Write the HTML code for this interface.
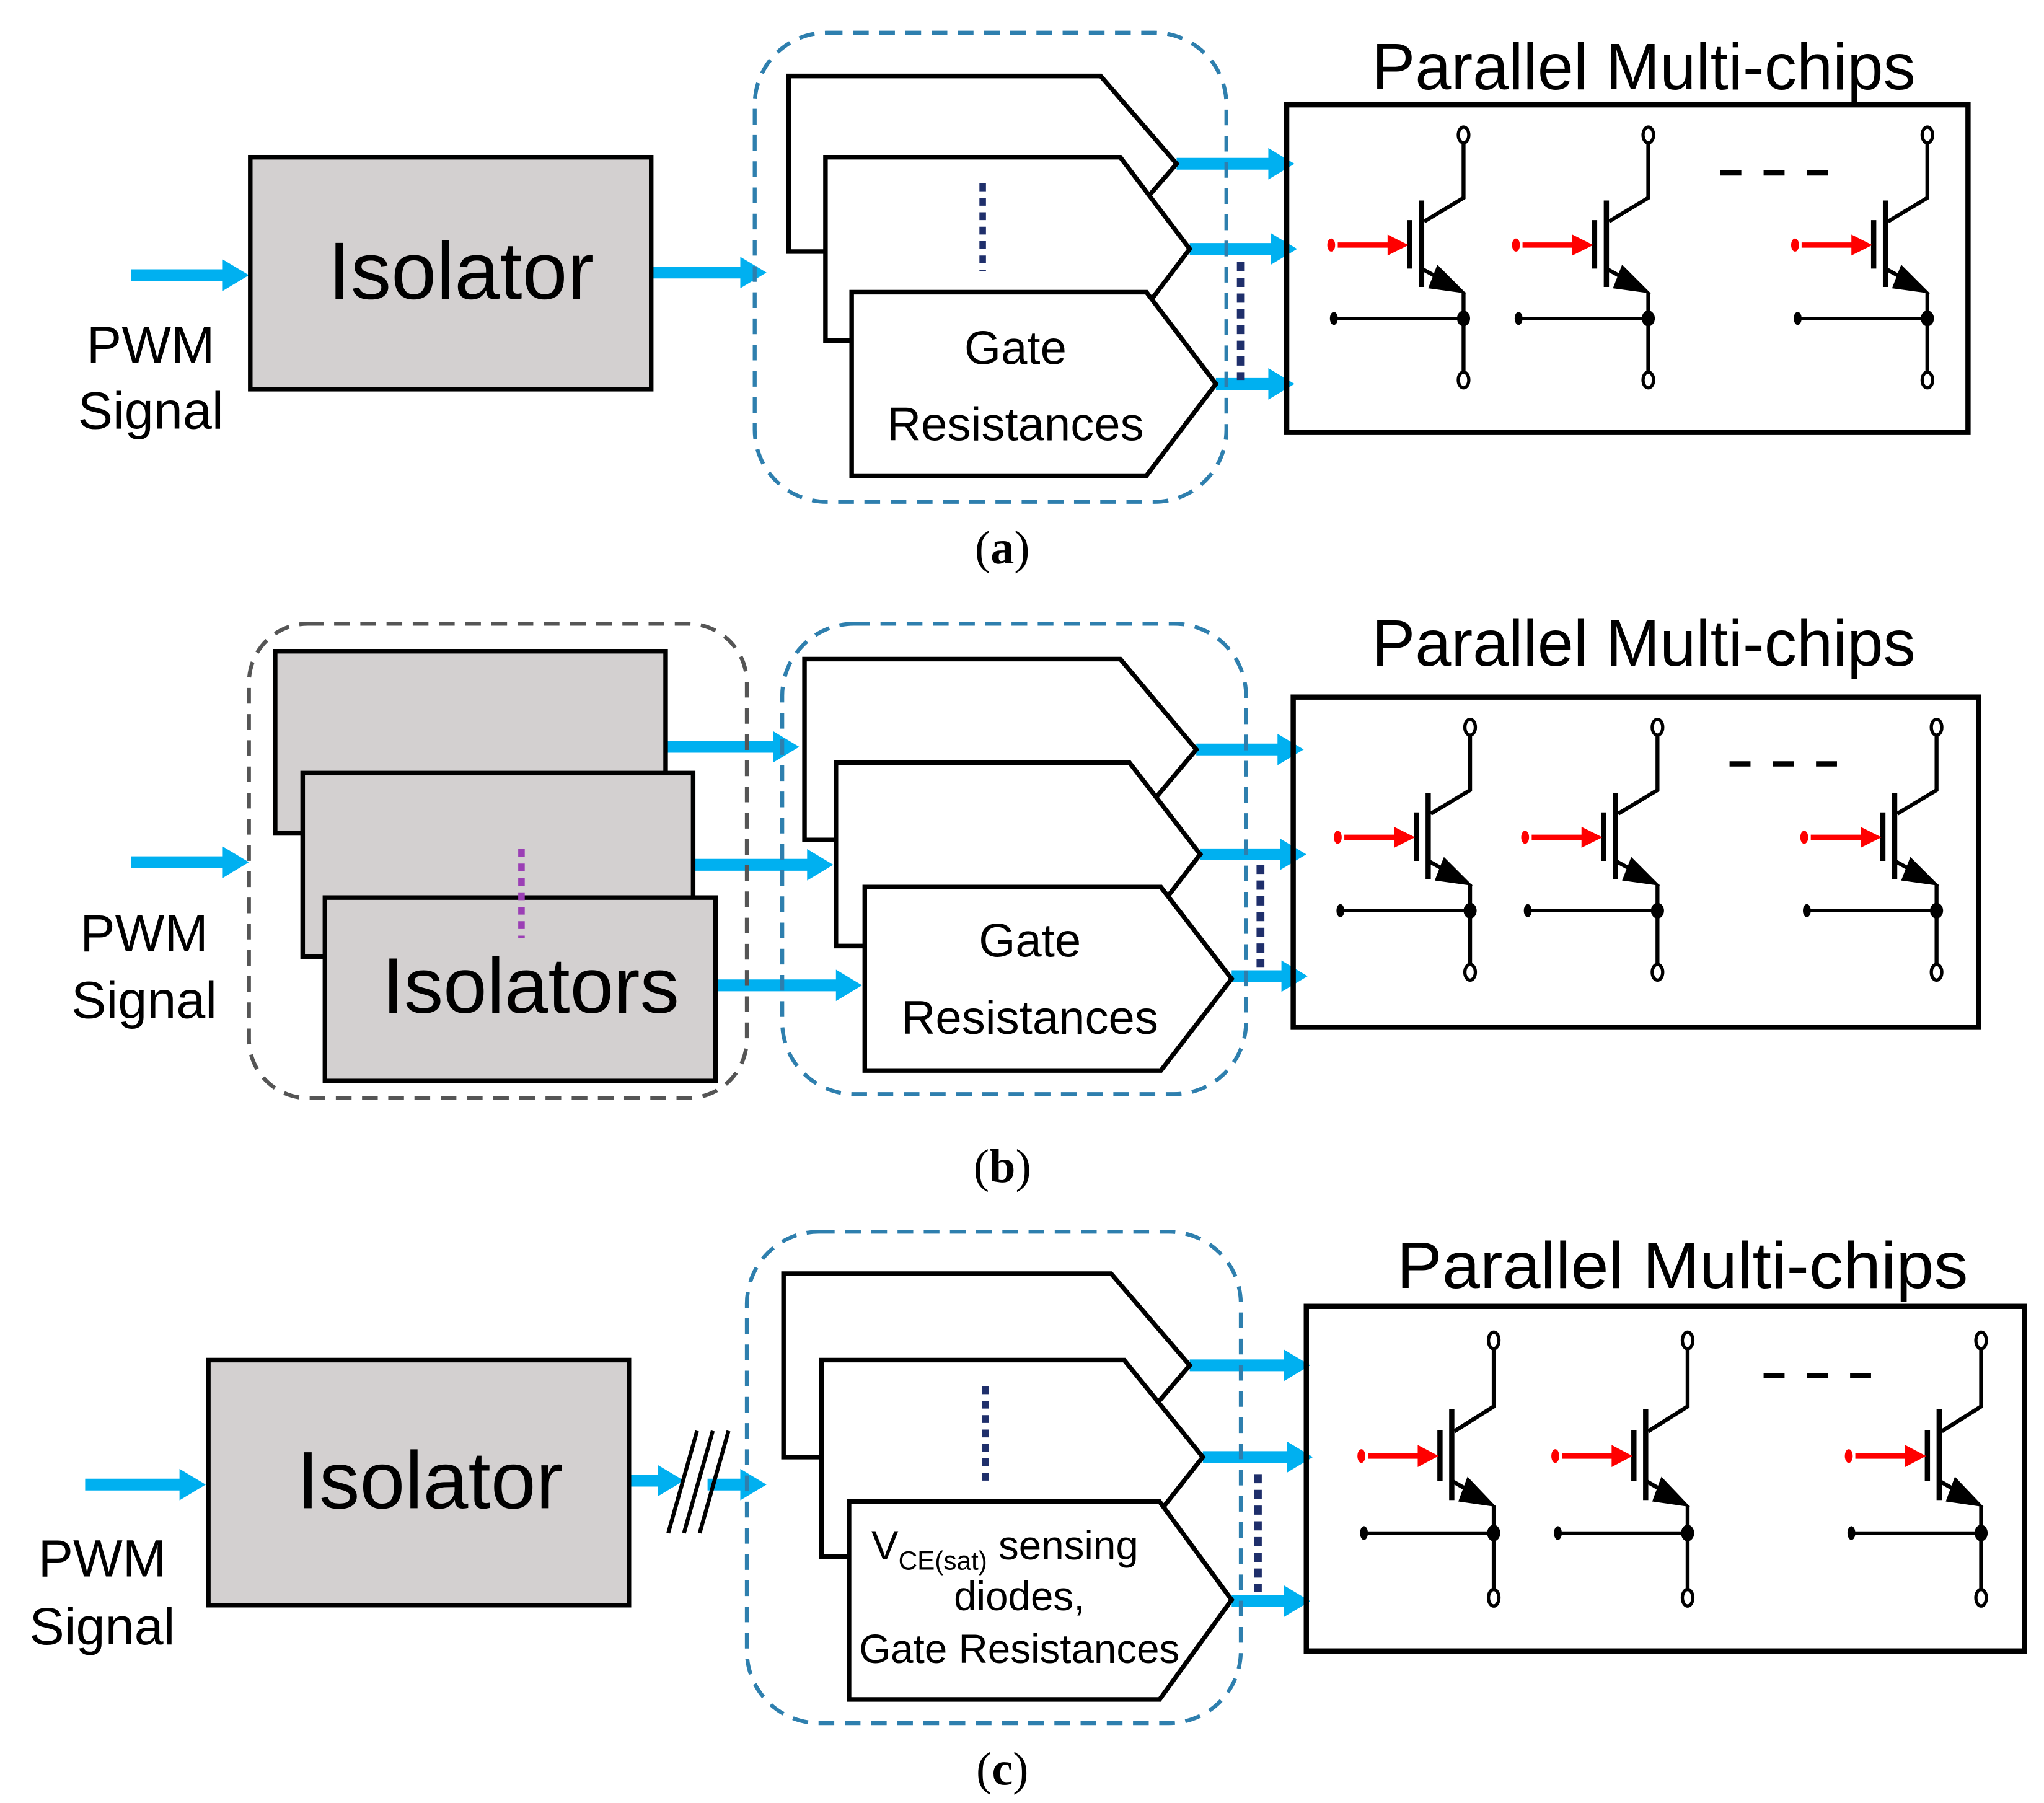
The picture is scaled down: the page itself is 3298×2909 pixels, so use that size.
<!DOCTYPE html>
<html><head><meta charset="utf-8"><style>
html,body{margin:0;padding:0;background:#fff}
svg{display:block}
.t{font-family:"Liberation Sans",sans-serif;fill:#000}
.s{font-family:"Liberation Serif",serif;fill:#000}
</style></head><body>
<svg width="3298" height="2909" viewBox="0 0 1560 1376" xmlns="http://www.w3.org/2000/svg">
<defs>
<g id="ig">
<ellipse cx="0" cy="0" rx="4" ry="6" fill="#fff" stroke="#000" stroke-width="2.5"/>
<path d="M0 6 V48 L-30 66" fill="none" stroke="#000" stroke-width="3"/>
<line x1="-32" y1="50" x2="-32" y2="116" stroke="#000" stroke-width="4"/>
<line x1="-41" y1="65" x2="-41" y2="102" stroke="#000" stroke-width="4"/>
<line x1="-96" y1="84" x2="-56" y2="84" stroke="#f00" stroke-width="4"/>
<polygon points="-58,76 -42,84 -58,92" fill="#f00"/>
<ellipse cx="-101" cy="84" rx="3" ry="5" fill="#f00"/>
<line x1="-32" y1="102" x2="-12" y2="113" stroke="#000" stroke-width="3"/>
<polygon points="-20,99 2,121 -27,117" fill="#000"/>
<path d="M0 120 V181" fill="none" stroke="#000" stroke-width="3"/>
<ellipse cx="0" cy="187" rx="4" ry="6" fill="#fff" stroke="#000" stroke-width="2.5"/>
<line x1="-99" y1="140" x2="0" y2="140" stroke="#000" stroke-width="2.5"/>
<ellipse cx="0" cy="140" rx="5" ry="6" fill="#000"/>
<ellipse cx="-99" cy="140" rx="3" ry="5" fill="#000"/>
</g>
</defs>
<g fill="none" stroke="#00B0F0" stroke-width="9">
<path d="M100 210H172 M497 208H567 M898 125H970 M908 190H972 M928 293H970
M100 658H172 M508 570H592 M529 660H618 M546 752H640 M913 572H977 M916 652H979 M940 745H980
M65 1133H139 M480 1130H504 M540 1133H567 M908 1042H982 M918 1112H984 M940 1222H982"/>
</g>
<g fill="#00B0F0">
<polygon points="170,198 190,210 170,222"/><polygon points="565,196 585,208 565,220"/>
<polygon points="968,113 988,125 968,137"/><polygon points="970,178 990,190 970,202"/><polygon points="968,281 988,293 968,305"/>
<polygon points="170,646 190,658 170,670"/><polygon points="590,558 610,570 590,582"/><polygon points="616,648 636,660 616,672"/><polygon points="638,740 658,752 638,764"/>
<polygon points="975,560 995,572 975,584"/><polygon points="977,640 997,652 977,664"/><polygon points="978,733 998,745 978,757"/>
<polygon points="137,1121 157,1133 137,1145"/><polygon points="502,1118 522,1130 502,1142"/><polygon points="565,1121 585,1133 565,1145"/>
<polygon points="980,1030 1000,1042 980,1054"/><polygon points="982,1100 1002,1112 982,1124"/><polygon points="980,1210 1000,1222 980,1234"/>
</g>

<!-- ===== (a) ===== -->
<text class="t" x="115" y="277" font-size="40" text-anchor="middle">PWM</text>
<text class="t" x="115" y="327" font-size="40" text-anchor="middle">Signal</text>
<rect x="191" y="120" width="306" height="177" fill="#D3D0D0" stroke="#000" stroke-width="3.5"/>
<text class="t" x="352" y="228" font-size="62" text-anchor="middle">Isolator</text>
<rect x="576" y="25" width="360" height="358" rx="55" fill="none" stroke="#2E7FAE" stroke-width="3" stroke-dasharray="12,8"/>
<g fill="#fff" stroke="#000" stroke-width="3.5" stroke-linejoin="miter">
<polygon points="602,58 840,58 898,125 840,192 602,192"/>
<polygon points="630,120 855,120 908,190 855,260 630,260"/>
<polygon points="650,223 875,223 928,293 875,363 650,363"/>
</g>
<line x1="750" y1="140" x2="750" y2="207" stroke="#1F2F6B" stroke-width="5" stroke-dasharray="6,5"/>
<line x1="947" y1="200" x2="947" y2="290" stroke="#1F2F6B" stroke-width="6" stroke-dasharray="7,5"/>
<text class="t" x="775" y="278" font-size="36" text-anchor="middle">Gate</text>
<text class="t" x="775" y="336" font-size="36" text-anchor="middle">Resistances</text>
<rect x="982" y="80" width="520" height="250" fill="none" stroke="#000" stroke-width="4"/>
<text class="t" x="1047" y="68" font-size="50" textLength="415" lengthAdjust="spacingAndGlyphs">Parallel  Multi-chips</text>
<line x1="1313" y1="132" x2="1395" y2="132" stroke="#000" stroke-width="4" stroke-dasharray="16,17"/>
<use href="#ig" x="1117" y="103"/><use href="#ig" x="1258" y="103"/><use href="#ig" x="1471" y="103"/>
<text class="s" x="765" y="430" font-size="36" text-anchor="middle">(<tspan font-weight="bold">a</tspan>)</text>

<!-- ===== (b) ===== -->
<text class="t" x="110" y="726" font-size="40" text-anchor="middle">PWM</text>
<text class="t" x="110" y="777" font-size="40" text-anchor="middle">Signal</text>
<rect x="190" y="476" width="380" height="362" rx="45" fill="none" stroke="#555" stroke-width="3" stroke-dasharray="12,8"/>
<g fill="#D3D0D0" stroke="#000" stroke-width="3.5">
<rect x="210" y="497" width="298" height="139"/>
<rect x="231" y="590" width="298" height="140"/>
<rect x="248" y="685" width="298" height="140"/>
</g>
<line x1="398" y1="648" x2="398" y2="716" stroke="#9B3FB5" stroke-width="5" stroke-dasharray="6,5"/>
<text class="t" x="405" y="773" font-size="60" text-anchor="middle">Isolators</text>
<rect x="597" y="476" width="354" height="359" rx="55" fill="none" stroke="#2E7FAE" stroke-width="3" stroke-dasharray="12,8"/>
<g fill="#fff" stroke="#000" stroke-width="3.5">
<polygon points="614,503 855,503 913,572 855,641 614,641"/>
<polygon points="638,582 862,582 916,652 862,722 638,722"/>
<polygon points="660,677 886,677 940,747 886,817 660,817"/>
</g>
<line x1="962" y1="660" x2="962" y2="738" stroke="#1F2F6B" stroke-width="6" stroke-dasharray="7,5"/>
<text class="t" x="786" y="730" font-size="36" text-anchor="middle">Gate</text>
<text class="t" x="786" y="789" font-size="36" text-anchor="middle">Resistances</text>
<rect x="987" y="532" width="523" height="252" fill="none" stroke="#000" stroke-width="4"/>
<text class="t" x="1047" y="508" font-size="50" textLength="415" lengthAdjust="spacingAndGlyphs">Parallel  Multi-chips</text>
<line x1="1320" y1="583" x2="1403" y2="583" stroke="#000" stroke-width="4" stroke-dasharray="16,17"/>
<use href="#ig" x="1122" y="555"/><use href="#ig" x="1265" y="555"/><use href="#ig" x="1478" y="555"/>
<text class="s" x="765" y="902" font-size="36" text-anchor="middle">(<tspan font-weight="bold">b</tspan>)</text>

<!-- ===== (c) ===== -->
<text class="t" x="78" y="1203" font-size="40" text-anchor="middle">PWM</text>
<text class="t" x="78" y="1255" font-size="40" text-anchor="middle">Signal</text>
<rect x="159" y="1038" width="321" height="187" fill="#D3D0D0" stroke="#000" stroke-width="3.5"/>
<text class="t" x="328" y="1151" font-size="62" text-anchor="middle">Isolator</text>
<g stroke="#000" stroke-width="3">
<line x1="510" y1="1170" x2="532" y2="1092"/><line x1="522" y1="1170" x2="544" y2="1092"/><line x1="534" y1="1170" x2="556" y2="1092"/>
</g>
<rect x="570" y="940" width="377" height="375" rx="55" fill="none" stroke="#2E7FAE" stroke-width="3" stroke-dasharray="12,8"/>
<g fill="#fff" stroke="#000" stroke-width="3.5">
<polygon points="598,972 848,972 908,1042 848,1112 598,1112"/>
<polygon points="627,1038 858,1038 918,1112 858,1188 627,1188"/>
<polygon points="648,1146 885,1146 940,1221 885,1297 648,1297"/>
</g>
<line x1="752" y1="1058" x2="752" y2="1130" stroke="#1F2F6B" stroke-width="5" stroke-dasharray="6,5"/>
<line x1="960" y1="1125" x2="960" y2="1215" stroke="#1F2F6B" stroke-width="6" stroke-dasharray="7,5"/>
<text class="t" x="665" y="1190" font-size="31">V<tspan font-size="20" dy="8">CE(sat)</tspan><tspan dy="-8">  sensing</tspan></text>
<text class="t" x="778" y="1229" font-size="31" text-anchor="middle">diodes,</text>
<text class="t" x="778" y="1269" font-size="31" text-anchor="middle">Gate Resistances</text>
<rect x="997" y="997" width="548" height="263" fill="none" stroke="#000" stroke-width="4"/>
<text class="t" x="1066" y="983" font-size="50" textLength="436" lengthAdjust="spacingAndGlyphs">Parallel  Multi-chips</text>
<line x1="1346" y1="1050" x2="1430" y2="1050" stroke="#000" stroke-width="4" stroke-dasharray="16,17"/>
<use href="#ig" transform="translate(1140,1023) scale(1,1.05)"/>
<use href="#ig" transform="translate(1288,1023) scale(1,1.05)"/>
<use href="#ig" transform="translate(1512,1023) scale(1,1.05)"/>
<text class="s" x="765" y="1362" font-size="36" text-anchor="middle">(<tspan font-weight="bold">c</tspan>)</text>
</svg>
</body></html>
